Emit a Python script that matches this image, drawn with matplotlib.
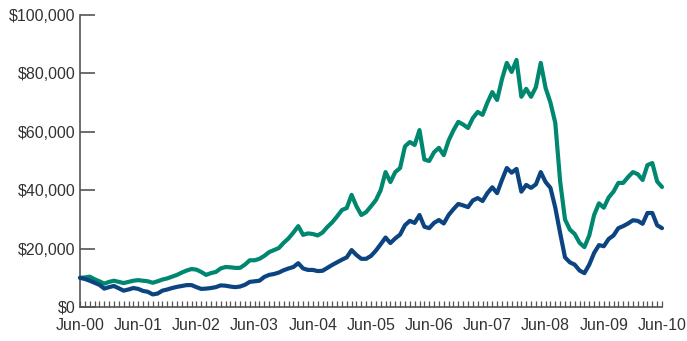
import matplotlib
matplotlib.use('Agg')
import matplotlib.pyplot as plt
from matplotlib.ticker import FuncFormatter, MultipleLocator

# monthly values in $ thousands, Jun-00 .. Jun-10
teal = [10.0, 10.1, 10.4, 9.5, 8.8, 8.0, 8.6, 9.0, 8.6, 8.2,
        8.6, 9.0, 9.2, 9.0, 8.8, 8.3, 8.8, 9.4, 9.8, 10.4,
        11.0, 11.8, 12.5, 13.0, 12.8, 12.0, 11.0, 11.6, 12.0, 13.2,
        13.7, 13.6, 13.4, 13.4, 14.5, 16.0, 16.0, 16.5, 17.5, 18.8,
        19.5, 20.2, 22.0, 23.5, 25.5, 27.7, 24.7, 25.2, 25.0, 24.5,
        25.5, 27.4, 29.0, 31.0, 33.2, 33.9, 38.4, 34.5, 31.5, 32.5,
        34.5, 36.6, 40.0, 46.2, 42.8, 46.2, 47.6, 55.0, 56.5, 55.5,
        60.6, 50.5, 50.0, 53.0, 54.5, 52.0, 57.0, 60.5, 63.4, 62.5,
        61.3, 64.7, 66.8, 65.8, 70.0, 73.6, 70.9, 78.0, 83.6, 80.5,
        84.6, 72.0, 74.7, 72.0, 75.3, 83.6, 75.0, 70.0, 63.0, 43.0,
        30.0, 26.5, 25.0, 22.0, 20.5, 24.5, 31.5, 35.5, 34.0, 37.5,
        39.5, 42.5, 42.5, 44.5, 46.2, 45.5, 43.5, 48.6, 49.3, 43.0,
        41.1]
navy = [10.0, 9.6, 9.0, 8.3, 7.6, 6.3, 6.8, 7.2, 6.4, 5.6,
        6.0, 6.5, 6.2, 5.5, 5.2, 4.3, 4.6, 5.6, 6.0, 6.5,
        6.9, 7.2, 7.5, 7.5, 6.8, 6.2, 6.3, 6.5, 6.8, 7.4,
        7.3, 7.0, 6.8, 7.0, 7.6, 8.6, 8.8, 9.0, 10.3, 11.0,
        11.3, 11.8, 12.6, 13.2, 13.7, 15.0, 13.2, 12.7, 12.7, 12.3,
        12.4, 13.4, 14.4, 15.3, 16.2, 17.0, 19.5, 17.8, 16.5, 16.5,
        17.5, 19.3, 21.5, 23.8, 21.9, 23.5, 24.8, 28.0, 29.5, 28.8,
        31.5, 27.5, 27.0, 28.8, 29.8, 28.6, 31.5, 33.5, 35.3, 34.8,
        34.2, 36.5, 37.3, 36.3, 39.0, 41.0, 39.0, 43.5, 47.6, 46.0,
        47.3, 39.5, 41.8, 40.8, 42.0, 46.2, 42.8, 40.8, 34.0, 25.3,
        17.0, 15.3, 14.5, 12.5, 11.6, 14.5, 18.5, 21.2, 20.8, 23.3,
        24.5, 27.0, 27.7, 28.6, 29.7, 29.5, 28.5, 32.2, 32.2, 28.0,
        27.0]
year_labels = ['Jun-00', 'Jun-01', 'Jun-02', 'Jun-03', 'Jun-04', 'Jun-05',
               'Jun-06', 'Jun-07', 'Jun-08', 'Jun-09', 'Jun-10']

plt.rcParams['font.family'] = ['Liberation Sans', 'DejaVu Sans']

months = list(range(len(teal)))
fig = plt.figure(figsize=(6.87, 3.41), dpi=100)
ax = fig.add_axes([80 / 687, 1 - 307 / 341, 582 / 687, 292 / 341])

ax.plot(months, [v * 1000 for v in teal], color='#00876F', lw=3.0,
        solid_joinstyle='round', solid_capstyle='round', zorder=3)
ax.plot(months, [v * 1000 for v in navy], color='#0B4480', lw=3.0,
        solid_joinstyle='round', solid_capstyle='round', zorder=3)

ax.set_xlim(0, 120)
ax.set_ylim(0, 100000)
for s in ['top', 'right']:
    ax.spines[s].set_visible(False)
for s in ['left', 'bottom']:
    ax.spines[s].set_color('#555555')
    ax.spines[s].set_linewidth(1.2)

ax.set_yticks(range(0, 100001, 20000))
ax.yaxis.set_major_formatter(FuncFormatter(lambda v, p: f'${v:,.0f}'))
ax.tick_params(axis='y', direction='in', length=11, width=1.2, color='#555555',
               labelsize=11.5, labelcolor='#333333', pad=3)

ax.set_xticks(range(0, 121, 12))
ax.set_xticklabels(year_labels)
ax.xaxis.set_minor_locator(MultipleLocator(1))
ax.tick_params(axis='x', which='both', direction='in', length=4, width=0.9,
               color='#555555', labelsize=11.5, labelcolor='#333333', pad=8)

for ln in ax.lines:
    ln.set_clip_on(False)

fig.savefig('out.png', dpi=100)
